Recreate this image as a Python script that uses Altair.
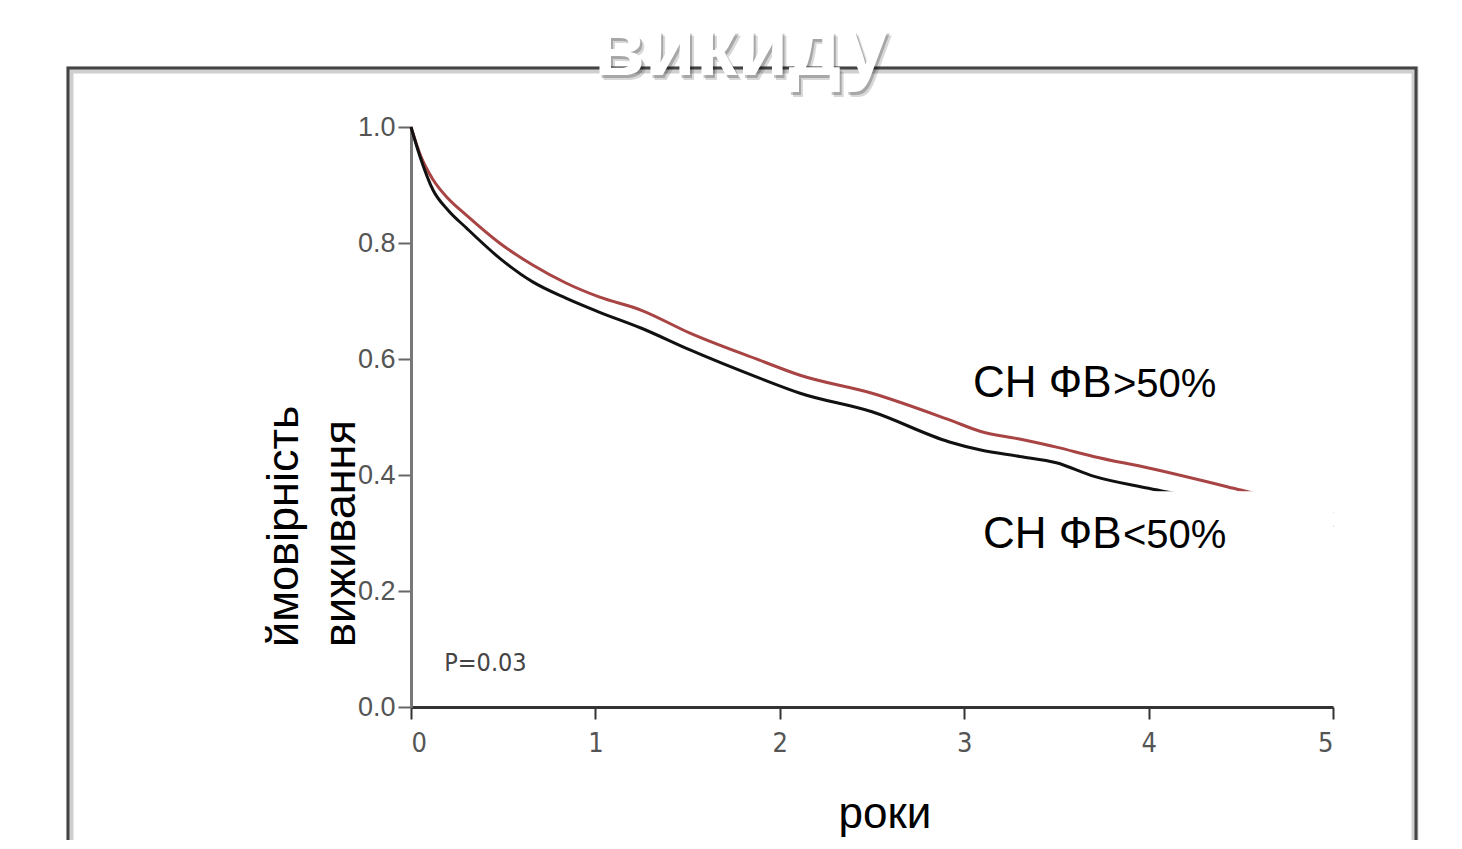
import altair as alt
import pandas as pd

# ---- data ----
years = [0, 0.05, 0.12, 0.2, 0.3, 0.48, 0.66, 0.84, 1.02, 1.25, 1.51, 1.89, 2.11, 2.5,
         2.92, 3.09, 3.3, 3.5, 3.7, 4.0, 4.5, 5.0]
surv_hfpef = [1.0, 0.952, 0.909, 0.877, 0.848, 0.80, 0.762, 0.731, 0.707, 0.684, 0.645,
              0.598, 0.572, 0.541, 0.495, 0.475, 0.462, 0.448, 0.432, 0.412, 0.374, 0.334]
surv_hfref = [1.0, 0.948, 0.891, 0.857, 0.826, 0.774, 0.733, 0.705, 0.681, 0.653, 0.616,
              0.567, 0.541, 0.509, 0.457, 0.443, 0.432, 0.421, 0.398, 0.377, 0.345, 0.31]
series_names = ["СН ФВ>50%", "СН ФВ<50%"]
series_colors = ["#a84444", "#111111"]

x_ticks = [0, 1, 2, 3, 4, 5]
y_ticks = [0.0, 0.2, 0.4, 0.6, 0.8, 1.0]

title_text = "викиду"
y_title_lines = ["ймовірність", "виживання"]
x_title = "роки"
p_text = "P=0.03"

# label boxes (data coordinates)
boxes = pd.DataFrame({
    "x0": [2.934, 2.99], "x1": [5.07, 5.0],
    "y0": [0.62, 0.372], "y1": [0.502, 0.228],
})
label_main = pd.DataFrame({"x": [3.048, 3.102], "y": [0.535, 0.274], "t": ["СН ФВ", "СН ФВ"]})
label_pct = pd.DataFrame({"x": [3.807, 3.861], "y": [0.535, 0.274], "t": [">50%", "<50%"]})

rows = []
for name, vals in zip(series_names, [surv_hfpef, surv_hfref]):
    for t, v in zip(years, vals):
        rows.append({"year": t, "surv": v, "group": name})
df = pd.DataFrame(rows)

one = pd.DataFrame({"a": [0]})

xs = alt.Scale(domain=[0, 5], nice=False)
ys = alt.Scale(domain=[0, 1], nice=False)

frame_shadow = alt.Chart(one).mark_rect(filled=False, stroke="#cfcfcf", strokeWidth=7).encode(
    x=alt.value(-341), x2=alt.value(1004), y=alt.value(-57), y2=alt.value(800))
frame = alt.Chart(one).mark_rect(filled=False, stroke="#444444", strokeWidth=3).encode(
    x=alt.value(-343), x2=alt.value(1005), y=alt.value(-59), y2=alt.value(800))

def title_layer(dx, dy, color, opacity):
    return alt.Chart(one).mark_text(
        text=title_text, font="Liberation Sans", fontWeight="bold", fontSize=83,
        color=color, opacity=opacity, align="center", baseline="alphabetic").encode(
        x=alt.value(330 + dx), y=alt.value(-52 + dy))

title_sh1 = title_layer(4, 5, "#000000", 0.15)
title_sh2 = title_layer(2, 3, "#000000", 0.22)
title = title_layer(0, 0, "#ffffff", 1.0)

curves = alt.Chart(df).mark_line(strokeWidth=3, interpolate="monotone").encode(
    x=alt.X("year:Q", scale=xs,
            axis=alt.Axis(values=x_ticks, format="d", title="", grid=False,
                          domainColor="#333333", domainWidth=3, tickColor="#333333",
                          tickWidth=2, tickSize=12, labelFontSize=27,
                          labelFont="DejaVu Sans Condensed", labelColor="#555555",
                          labelPadding=11)),
    y=alt.Y("surv:Q", scale=ys,
            axis=alt.Axis(values=y_ticks, format=".1f", title="", grid=False,
                          domainColor="#777777", domainWidth=3, tickColor="#666666",
                          tickWidth=2, tickSize=13, labelFontSize=27,
                          labelFont="Liberation Sans", labelColor="#555555",
                          labelPadding=3)),
    color=alt.Color("group:N", scale=alt.Scale(domain=series_names, range=series_colors),
                    legend=None),
)

box_layer = alt.Chart(boxes).mark_rect(color="#ffffff").encode(
    x=alt.X("x0:Q", scale=xs), x2="x1:Q", y=alt.Y("y0:Q", scale=ys), y2="y1:Q")

lab1 = alt.Chart(label_main).mark_text(
    font="Liberation Sans", fontSize=44, color="#000000", align="left",
    baseline="alphabetic").encode(x=alt.X("x:Q", scale=xs), y=alt.Y("y:Q", scale=ys), text="t:N")
lab2 = alt.Chart(label_pct).mark_text(
    font="Liberation Sans", fontSize=40, color="#000000", align="left",
    baseline="alphabetic").encode(x=alt.X("x:Q", scale=xs), y=alt.Y("y:Q", scale=ys), text="t:N")

p_df = pd.DataFrame({"x": [0.18], "y": [0.076], "t": [p_text]})
p_layer = alt.Chart(p_df).mark_text(
    font="DejaVu Sans Condensed", fontSize=25, color="#444444", align="left",
    baseline="middle").encode(x=alt.X("x:Q", scale=xs), y=alt.Y("y:Q", scale=ys), text="t:N")

ytitle = alt.Chart(one).mark_text(
    text=y_title_lines, font="Liberation Sans", fontSize=45, color="#000000",
    align="left", baseline="alphabetic", angle=270, lineHeight=57).encode(
    x=alt.value(-113), y=alt.value(520))
xtitle = alt.Chart(one).mark_text(
    text=x_title, font="Liberation Sans", fontSize=44, color="#000000",
    align="center", baseline="alphabetic").encode(x=alt.value(474), y=alt.value(701))

chart = alt.layer(
    frame_shadow, frame, title_sh1, title_sh2, title, curves, box_layer,
    lab1, lab2, p_layer, ytitle, xtitle
).properties(
    width=922, height=580,
    padding={"left": 403, "top": 119, "right": 121, "bottom": 133},
    autosize=alt.AutoSizeParams(type="none"),
    background="#ffffff",
).configure_view(stroke=None)

chart.save("out.html", embed_options={"renderer": "svg", "actions": False})
